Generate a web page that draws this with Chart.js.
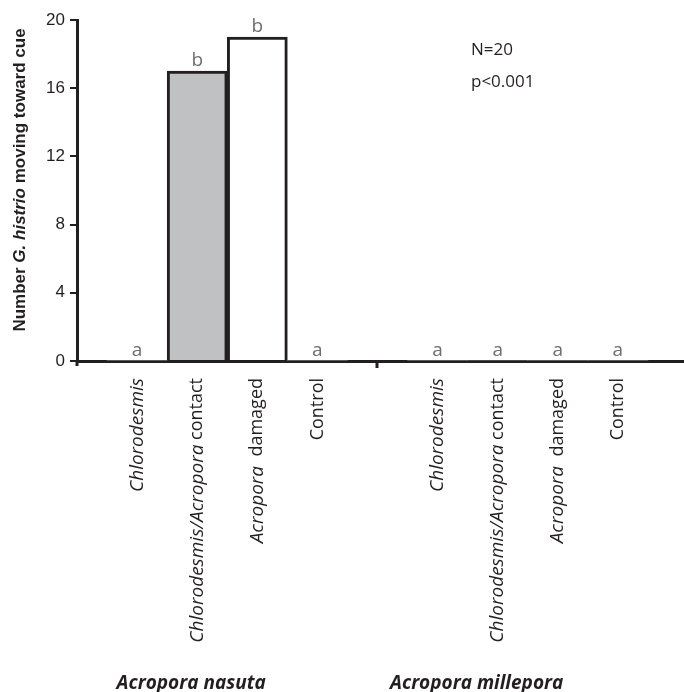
<!DOCTYPE html>
<html>
<head>
<meta charset="utf-8">
<script src="https://cdn.jsdelivr.net/npm/chart.js@4.4.1/dist/chart.umd.min.js"></script>
<style>
  html, body { margin: 0; padding: 0; background: #fff; overflow: hidden; }
  #wrap { width: 684px; height: 692px; }
</style>
</head>
<body>
<div id="wrap"><canvas id="chart"></canvas></div>
<script>
const categories = [
  "Chlorodesmis",
  "Chlorodesmis/Acropora contact",
  "Acropora  damaged",
  "Control",
]
const coralSpecies = ["Acropora nasuta", "Acropora millepora"]
const nasutaCounts = [0, 17, 19, 0]
const milleporaCounts = [0, 0, 0, 0]
const nasutaLetters = ["a", "b", "b", "a"]
const milleporaLetters = ["a", "a", "a", "a"]
const yTicks = [0, 4, 8, 12, 16, 20]
const statsLines = ["N=20", "p<0.001"]
const yTitle = "Number G. histrio moving toward cue"

const ink = "#231f20"
const catFill = ["#ffffff", "#c0c1c3", "#ffffff", "#ffffff"]

// x index per bar: one empty slot between the two coral groups
const groups = [nasutaCounts, milleporaCounts]
const letters = [nasutaLetters, milleporaLetters]
const points = []
const fills = []
const barLetters = []
groups.forEach((vals, g) => {
  vals.forEach((v, k) => {
    points.push({ x: g * 5 + k + 1, y: v })
    fills.push(catFill[k])
    barLetters.push(letters[g][k])
  })
})

// text made of italic and upright pieces
const italicRe = /(Chlorodesmis\/Acropora|Chlorodesmis|Acropora|G\. histrio)/
const pieces = (s) => s.split(italicRe).filter((p) => p !== "").map((p) => ({ text: p, italic: italicRe.test(p) }))

const fontFor = (italic, weight, size, family) => `${italic ? "italic " : ""}${weight} ${size}px ${family}`

const measureMixed = (ctx, str, weight, sizeUp, sizeIt, family) => {
  const parts = pieces(str)
  let total = 0
  parts.forEach((p) => {
    p.font = fontFor(p.italic, weight, p.italic ? sizeIt : sizeUp, family)
    ctx.font = p.font
    p.w = ctx.measureText(p.text).width
    total += p.w
  })
  return { parts, total }
}

const fillMixed = (ctx, m, x0) => {
  let x = x0
  m.parts.forEach((part) => {
    ctx.font = part.font
    ctx.fillText(part.text, x, 0)
    x += part.w
  })
}

const annotate = {
  id: "annotate",
  afterDraw(chart) {
    const { ctx, scales, chartArea } = chart
    const xs = scales.x
    const ys = scales.y
    ctx.save()

    // small ticks below the axis at the y axis and between the groups
    ctx.strokeStyle = ink
    ctx.lineWidth = 3
    ctx.beginPath()
    ctx.moveTo(chartArea.left, chartArea.bottom)
    ctx.lineTo(chartArea.left, chartArea.bottom + 5)
    const sep = Math.round(xs.getPixelForValue(5))
    ctx.moveTo(sep, chartArea.bottom)
    ctx.lineTo(sep, chartArea.bottom + 7)
    ctx.stroke()

    // significance letters
    ctx.fillStyle = "#6d6e71"
    ctx.font = "19px 'Open Sans'"
    ctx.textAlign = "center"
    ctx.textBaseline = "alphabetic"
    points.forEach((p, i) => {
      ctx.fillText(barLetters[i], xs.getPixelForValue(p.x), ys.getPixelForValue(p.y) - 5)
    })

    // rotated treatment labels
    ctx.fillStyle = ink
    points.forEach((p, i) => {
      const m = measureMixed(ctx, categories[i % categories.length], "normal", 18, 19, "'Open Sans'")
      ctx.save()
      ctx.translate(xs.getPixelForValue(p.x), chartArea.bottom + 17)
      ctx.rotate(-Math.PI / 2)
      ctx.textAlign = "left"
      ctx.textBaseline = "middle"
      fillMixed(ctx, m, -m.total)
      ctx.restore()
    })

    // y axis title
    const t = measureMixed(ctx, yTitle, "bold", 17, 17, "'Liberation Sans'")
    ctx.save()
    ctx.translate(20, 180)
    ctx.rotate(-Math.PI / 2)
    ctx.textAlign = "left"
    ctx.textBaseline = "middle"
    fillMixed(ctx, t, -t.total / 2)
    ctx.restore()

    // stats
    ctx.font = "17px 'Open Sans'"
    ctx.textAlign = "left"
    ctx.textBaseline = "middle"
    statsLines.forEach((s, i) => {
      ctx.fillText(s, 471, 50 + i * 32)
    })

    // coral species under each group
    ctx.font = "italic bold 19px 'Open Sans'"
    ctx.textAlign = "center"
    ctx.textBaseline = "alphabetic"
    const groupPos = [1.9, 6.65]
    coralSpecies.forEach((s, i) => {
      ctx.fillText(s, xs.getPixelForValue(groupPos[i]), 689)
    })

    ctx.restore()
  },
}

new Chart(document.getElementById("chart"), {
  type: "bar",
  data: {
    datasets: [
      {
        data: points,
        backgroundColor: fills,
        borderColor: ink,
        borderWidth: (c) => (c.raw && c.raw.y ? 3 : 0),
        borderSkipped: "bottom",
        barPercentage: 1,
        categoryPercentage: 1,
      },
    ],
  },
  options: {
    responsive: true,
    maintainAspectRatio: false,
    animation: false,
    layout: { padding: { top: 20, right: 0, left: 0, bottom: 0 } },
    plugins: {
      legend: { display: false },
      tooltip: { enabled: false },
    },
    scales: {
      x: {
        type: "linear",
        offset: false,
        min: 0,
        max: 10.1,
        ticks: { display: false },
        grid: { display: false },
        border: { display: true, color: ink, width: 3 },
        afterFit: (scale) => {
          scale.height = 331
        },
      },
      y: {
        min: 0,
        max: 20,
        afterBuildTicks: (scale) => {
          scale.ticks = yTicks.map((v) => ({ value: v }))
        },
        ticks: {
          color: ink,
          padding: 5,
          font: { family: "'Liberation Sans'", size: 17 },
        },
        grid: {
          drawOnChartArea: false,
          drawTicks: true,
          tickLength: 7,
          color: ink,
          lineWidth: 2,
        },
        border: { display: true, color: ink, width: 3 },
        afterFit: (scale) => {
          scale.width = 77
        },
      },
    },
  },
  plugins: [annotate],
})
</script>
</body>
</html>
